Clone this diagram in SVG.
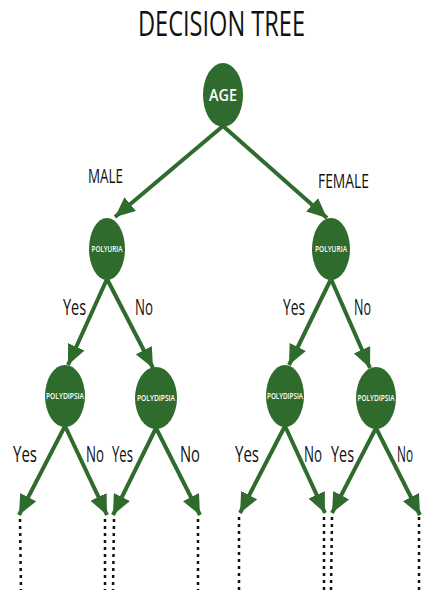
<svg xmlns="http://www.w3.org/2000/svg" width="425" height="603" viewBox="0 0 425 603">
<style>
.bg{fill:#ffffff}
.node{fill:#2f6b2c}
.edge{stroke:#2f6b2c;stroke-width:4;fill:none}
.dot{stroke:#111;stroke-width:2.5;stroke-dasharray:3 4;fill:none}
.t{font-family:"Open Sans","Liberation Sans",sans-serif;fill:#111}
.nt{font-family:"Open Sans","Liberation Sans",sans-serif;fill:#ffffff;text-anchor:middle;font-weight:600}
</style>
<defs>
<marker id="ah" viewBox="0 0 20 18" refX="20" refY="9" markerWidth="20" markerHeight="18" markerUnits="userSpaceOnUse" orient="auto">
<path d="M0,0 L20,9 L0,18 Z" fill="#2f6b2c"/>
</marker>
</defs>
<rect class="bg" width="425" height="603"/>
<text class="t" x="138" y="36" font-size="34" textLength="167" lengthAdjust="spacingAndGlyphs">DECISION TREE</text>

<g id="connectors">
<line class="edge" x1="223" y1="126" x2="115" y2="217" marker-end="url(#ah)"/>
<line class="edge" x1="223" y1="126" x2="327" y2="218" marker-end="url(#ah)"/>
<line class="edge" x1="107" y1="279" x2="68" y2="365" marker-end="url(#ah)"/>
<line class="edge" x1="107" y1="279" x2="153" y2="368" marker-end="url(#ah)"/>
<line class="edge" x1="331" y1="279" x2="289" y2="365" marker-end="url(#ah)"/>
<line class="edge" x1="331" y1="279" x2="370" y2="368" marker-end="url(#ah)"/>
<line class="edge" x1="65" y1="426" x2="19" y2="515" marker-end="url(#ah)"/>
<line class="edge" x1="65" y1="426" x2="107" y2="515" marker-end="url(#ah)"/>
<line class="edge" x1="156" y1="428" x2="113" y2="515" marker-end="url(#ah)"/>
<line class="edge" x1="156" y1="428" x2="200" y2="515" marker-end="url(#ah)"/>
<line class="edge" x1="285" y1="426" x2="240" y2="513" marker-end="url(#ah)"/>
<line class="edge" x1="285" y1="426" x2="325" y2="513" marker-end="url(#ah)"/>
<line class="edge" x1="376" y1="428" x2="332" y2="513" marker-end="url(#ah)"/>
<line class="edge" x1="376" y1="428" x2="420" y2="515" marker-end="url(#ah)"/>
<line class="dot" x1="20" y1="519" x2="21" y2="590"/>
<line class="dot" x1="105" y1="519" x2="105" y2="590"/>
<line class="dot" x1="114" y1="519" x2="113" y2="590"/>
<line class="dot" x1="198" y1="519" x2="198" y2="590"/>
<line class="dot" x1="239" y1="517" x2="239" y2="590"/>
<line class="dot" x1="324" y1="517" x2="324" y2="590"/>
<line class="dot" x1="332" y1="517" x2="331" y2="590"/>
<line class="dot" x1="419" y1="517" x2="419" y2="590"/>
</g>

<g id="edge-labels">
<text class="t" x="88" y="183" font-size="20" textLength="35" lengthAdjust="spacingAndGlyphs">MALE</text>
<text class="t" x="318" y="188" font-size="20" textLength="51" lengthAdjust="spacingAndGlyphs">FEMALE</text>
<text class="t" x="63" y="315" font-size="21" textLength="23" lengthAdjust="spacingAndGlyphs">Yes</text>
<text class="t" x="135" y="315" font-size="21" textLength="18" lengthAdjust="spacingAndGlyphs">No</text>
<text class="t" x="283" y="315" font-size="21" textLength="22" lengthAdjust="spacingAndGlyphs">Yes</text>
<text class="t" x="354" y="315" font-size="21" textLength="17" lengthAdjust="spacingAndGlyphs">No</text>
<text class="t" x="13" y="462" font-size="21" textLength="24" lengthAdjust="spacingAndGlyphs">Yes</text>
<text class="t" x="86" y="462" font-size="21" textLength="18" lengthAdjust="spacingAndGlyphs">No</text>
<text class="t" x="112" y="462" font-size="21" textLength="21" lengthAdjust="spacingAndGlyphs">Yes</text>
<text class="t" x="180" y="462" font-size="21" textLength="20" lengthAdjust="spacingAndGlyphs">No</text>
<text class="t" x="235" y="462" font-size="21" textLength="24" lengthAdjust="spacingAndGlyphs">Yes</text>
<text class="t" x="304" y="462" font-size="21" textLength="18" lengthAdjust="spacingAndGlyphs">No</text>
<text class="t" x="331" y="462" font-size="21" textLength="23" lengthAdjust="spacingAndGlyphs">Yes</text>
<text class="t" x="397" y="462" font-size="21" textLength="16" lengthAdjust="spacingAndGlyphs">No</text>
</g>

<g id="age">
<ellipse class="node" cx="223" cy="95" rx="20" ry="32"/>
<text class="nt" x="223" y="101" font-size="16" textLength="28" lengthAdjust="spacingAndGlyphs">AGE</text>
</g>
<g id="polyuria-male">
<ellipse class="node" cx="107" cy="249" rx="18" ry="31"/>
<text class="nt" x="107" y="252" font-size="9" textLength="31" lengthAdjust="spacingAndGlyphs">POLYURIA</text>
</g>
<g id="polyuria-female">
<ellipse class="node" cx="331" cy="249" rx="19" ry="31"/>
<text class="nt" x="331" y="252" font-size="9" textLength="32" lengthAdjust="spacingAndGlyphs">POLYURIA</text>
</g>
<g id="polydipsia-1">
<ellipse class="node" cx="65" cy="396" rx="20" ry="31"/>
<text class="nt" x="65" y="399" font-size="8.5" textLength="38" lengthAdjust="spacingAndGlyphs">POLYDIPSIA</text>
</g>
<g id="polydipsia-2">
<ellipse class="node" cx="156" cy="398" rx="21" ry="31"/>
<text class="nt" x="156" y="401" font-size="8.5" textLength="38" lengthAdjust="spacingAndGlyphs">POLYDIPSIA</text>
</g>
<g id="polydipsia-3">
<ellipse class="node" cx="285" cy="396" rx="19" ry="31"/>
<text class="nt" x="285" y="399" font-size="8.5" textLength="36" lengthAdjust="spacingAndGlyphs">POLYDIPSIA</text>
</g>
<g id="polydipsia-4">
<ellipse class="node" cx="376" cy="398" rx="20" ry="31"/>
<text class="nt" x="376" y="401" font-size="8.5" textLength="37" lengthAdjust="spacingAndGlyphs">POLYDIPSIA</text>
</g>
</svg>
